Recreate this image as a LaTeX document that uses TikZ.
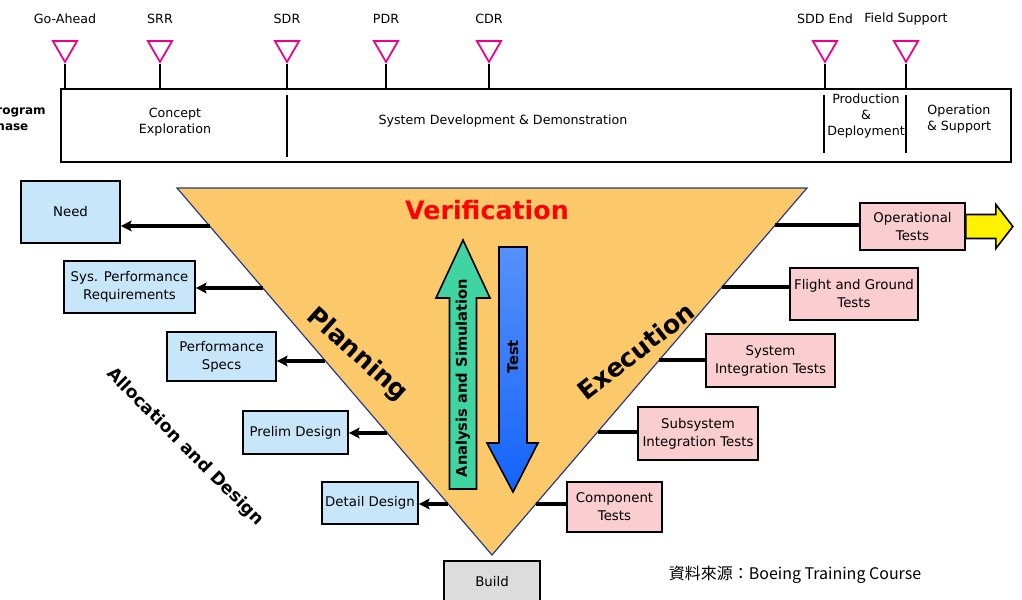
\documentclass[tikz,border=0pt]{standalone}
\usepackage{fontspec}
\setmainfont{DejaVu Sans}
\newfontfamily\cjk{Noto Sans CJK TC}
\usetikzlibrary{shapes.geometric, arrows.meta, calc}

\definecolor{vorange}{RGB}{252,201,106}
\definecolor{reqblue}{RGB}{200,230,250}
\definecolor{testpink}{RGB}{250,205,208}
\definecolor{buildgray}{RGB}{220,220,220}
\definecolor{simgreen}{RGB}{64,212,162}
\definecolor{testtop}{RGB}{85,145,250}
\definecolor{testbot}{RGB}{20,100,250}
\definecolor{edgeblue}{RGB}{40,60,130}

\begin{document}
\begin{tikzpicture}[
    x=0.75pt, y=-0.75pt,
    txt/.style={font=\fontsize{9.5}{12}\selectfont, align=center, inner sep=0pt},
    reqbox/.style={draw, line width=1.3pt, fill=reqblue, align=center, inner sep=1pt, font=\fontsize{10}{13.5}\selectfont},
    testbox/.style={reqbox, fill=testpink},
    sz/.style 2 args={minimum width=#1*0.75pt, minimum height=#2*0.75pt},
    milestone/.style={regular polygon, regular polygon sides=3, shape border rotate=180, draw=magenta, line width=1.3pt, minimum size=28*0.75pt, inner sep=0pt},
    stem/.style={line width=1.4pt},
    toarrow/.style={line width=2.6pt, -{Stealth[length=8pt, width=8pt, inset=1.5pt]}},
    feed/.style={line width=2.6pt},
    bigword/.style={font=\fontsize{19}{19}\selectfont\bfseries, inner sep=0pt},
    arrowword/.style={font=\fontsize{11}{11}\selectfont\bfseries, rotate=90, inner sep=0pt}
]
\useasboundingbox (0,0) rectangle (1022,600);

\node[draw, line width=1.8pt, sz={950}{73}] (phase) at (536,125.5) {};
\node[font=\fontsize{9}{12}\selectfont\bfseries, align=left, anchor=east, inner sep=0pt] (phlabel) at (46,118) {Program\\Phase};
\node[txt] (ce) at (175,122) {Concept\\Exploration};
\node[txt] (sdd) at (503,121) {System Development \& Demonstration};
\node[txt] (pd) at (866,116) {Production\\\&\\Deployment};
\node[txt] (os) at (959,119) {Operation\\\& Support};
\foreach \x/\a/\b in {287/95/157, 824/95/153, 906/95/153}
  \draw[stem] (\x,\a) -- (\x,\b);

\foreach \x/\lbl [count=\i] in {65/Go-Ahead, 160/SRR, 287/SDR, 386/PDR, 489/CDR, 825/SDD End, 906/Field Support}{
  \node[txt] (lab\i) at (\x,19) {\lbl};
  \node[milestone] (ms\i) at (\x,48) {};
  \draw[stem] (ms\i.south) -- (ms\i.south |- phase.north);
}

\coordinate (tl) at (177,188);
\coordinate (tr) at (807,188);
\coordinate (tb) at (492,555);
\draw[edgeblue, line width=0.9pt, fill=vorange] (tl) -- (tr) -- (tb) -- cycle;

\node[reqbox, sz={99}{62}] (need) at (70.5,212) {Need};
\node[reqbox, sz={131}{52}] (sysreq) at (129.5,287) {Sys. Performance\\Requirements};
\node[reqbox, sz={109}{49}] (perf) at (221.5,356.5) {Performance\\Specs};
\node[reqbox, sz={105}{43}] (prelim) at (295.5,432.5) {Prelim Design};
\node[reqbox, sz={96}{42}] (detail) at (370,503) {Detail Design};

\node[testbox, sz={105}{47}] (optest) at (912.5,226.5) {Operational\\Tests};
\node[testbox, sz={128}{52}] (flight) at (854,294) {Flight and Ground\\Tests};
\node[testbox, sz={129}{53}] (sysint) at (770.5,360.5) {System\\Integration Tests};
\node[testbox, sz={120}{53}] (subint) at (698,433.5) {Subsystem\\Integration Tests};
\node[testbox, sz={95}{50}] (comp) at (614.5,507) {Component\\Tests};
\node[reqbox, fill=buildgray, sz={96}{42}] (build) at (492,582) {Build};

\foreach \t/\b in {0.1035/need, 0.2725/sysreq, 0.4714/perf, 0.6676/prelim, 0.8610/detail}
  \draw[toarrow] ($(tl)!\t!(tb)$) coordinate (from\b) -- (from\b -| \b.east);
\foreach \t/\b in {0.1008/optest, 0.2698/flight, 0.4687/sysint, 0.6649/subint, 0.8610/comp}
  \draw[feed] ($(tr)!\t!(tb)$) coordinate (from\b) -- (from\b -| \b.west);

\draw[line width=1.2pt, fill=yellow] (optest.east) ++(0,-12) -- ++(30,0) -- ++(0,-10) -- ++(17,22) -- ++(-17,22) -- ++(0,-10) -- ++(-30,0) -- cycle;

\draw[line width=1.2pt, fill=simgreen] (463,240) -- (490,298) -- (476.5,298) -- (476.5,489) -- (449.5,489) -- (449.5,298) -- (436,298) -- cycle;
\node[arrowword] (anasim) at (463,378) {Analysis and Simulation};
\draw[line width=1.2pt, top color=testtop, bottom color=testbot] (499,247) -- (527,247) -- (527,443) -- (538,443) -- (513,492) -- (487,443) -- (499,443) -- cycle;
\node[arrowword] (testlbl) at (513,357) {Test};

\node[bigword, text=red] (verif) at (487,210) {Verification};
\node[bigword, rotate=-42] (plan) at (357,355) {Planning};
\node[bigword, rotate=38] (exec) at (636,351) {Execution};
\node[font=\fontsize{13}{13}\selectfont\bfseries, rotate=-45, inner sep=0pt] (alloc) at (185,447) {Allocation and Design};

\node[font=\cjk\fontsize{12}{12}\selectfont, inner sep=0pt] (source) at (795,575) {資料來源：Boeing Training Course};
\end{tikzpicture}
\end{document}
